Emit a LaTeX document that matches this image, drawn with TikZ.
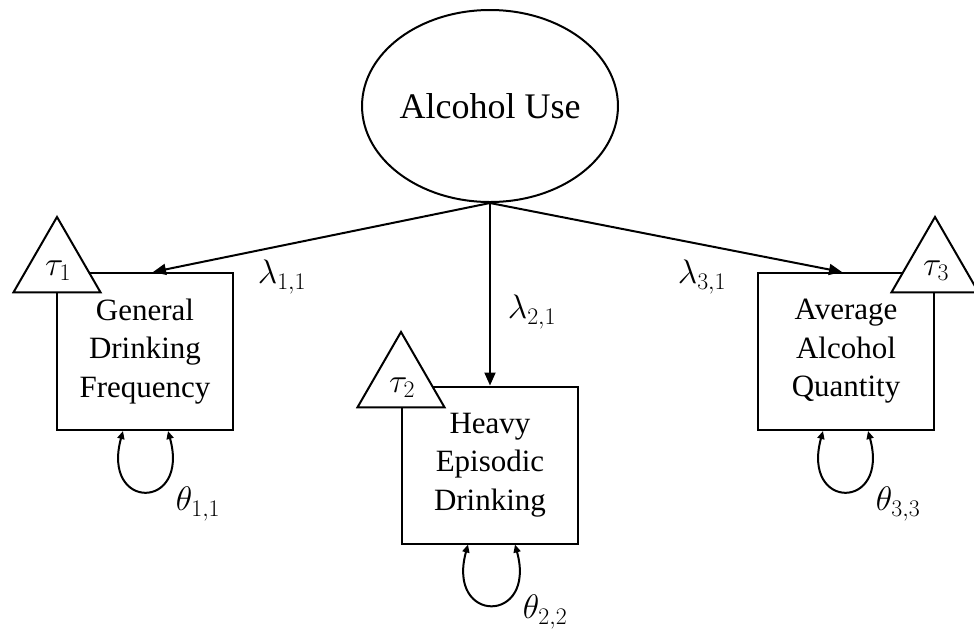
\RequirePackage{fix-cm}
\documentclass[tikz,border=0pt]{standalone}
\usepackage{fontspec}
\setmainfont{Liberation Serif}
\usetikzlibrary{shapes.geometric,arrows.meta,calc}

\begin{document}
\begin{tikzpicture}[x=1pt,y=-1pt, line width=2pt,
  latent/.style={draw, ellipse, minimum width=246pt, minimum height=192pt, inner sep=0pt, font=\fontsize{36}{40}\selectfont},
  obs/.style={draw, rectangle, minimum width=176pt, minimum height=157pt, inner sep=0pt, align=center, font=\fontsize{31}{38.5}\selectfont},
  tri/.style={draw, fill=white, regular polygon, regular polygon sides=3, minimum size=100.5pt, inner sep=0pt},
  mlab/.style={font=\fontsize{34}{36}\selectfont, inner sep=0pt},
  load/.style={-{Triangle[length=13pt,width=11pt]}},
  var/.style={{Triangle[length=8pt,width=7pt]}-{Triangle[length=8pt,width=7pt]}}
]
\useasboundingbox (0,0) rectangle (974,641);

\node[latent] (lat) at (490,106) {Alcohol Use};

\node[obs] (b1) at (145,351.5) {General\\Drinking\\Frequency};
\node[obs] (b2) at (490,465) {Heavy\\Episodic\\Drinking};
\node[obs] (b3) at (846,351.5) {Average\\Alcohol\\Quantity};

\node[tri] (t1) at (57,267.2) {};
\node[tri] (t2) at (401,382.2) {};
\node[tri] (t3) at (935,267.2) {};

\node[mlab] (tau1) at (58,271) {$\tau_1$};
\node[mlab] (tau2) at (402,388) {$\tau_2$};
\node[mlab] (tau3) at (936,271) {$\tau_3$};

\draw[load] (lat.south) -- ([xshift=8pt]b1.north);
\draw[load] (lat.south) -- (b2.north);
\draw[load] (lat.south) -- ([xshift=-4pt]b3.north);

\node[mlab] (l11) at (282,277) {$\lambda_{1,1}$};
\node[mlab] (l21) at (532,312) {$\lambda_{2,1}$};
\node[mlab] (l31) at (702,277) {$\lambda_{3,1}$};

\draw[var] ([xshift=-22pt]b1.south) .. controls +(-22,80) and +(22,80) .. ([xshift=23pt]b1.south);
\draw[var] ([xshift=-22pt]b2.south) .. controls +(-22,80) and +(22,80) .. ([xshift=25pt]b2.south);
\draw[var] ([xshift=-23pt]b3.south) .. controls +(-22,80) and +(22,80) .. ([xshift=22pt]b3.south);

\node[mlab] (th11) at (198,504) {$\theta_{1,1}$};
\node[mlab] (th22) at (545,612) {$\theta_{2,2}$};
\node[mlab] (th33) at (898,504) {$\theta_{3,3}$};
\end{tikzpicture}
\end{document}
